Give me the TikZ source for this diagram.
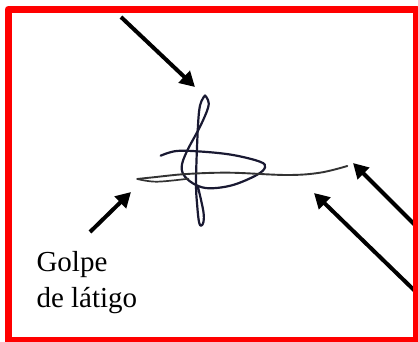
\documentclass[tikz,border=0pt]{standalone}
\usepackage{fontspec}
\setmainfont{Liberation Serif}
\usetikzlibrary{arrows.meta}
\definecolor{ink}{RGB}{25,25,50}
\tikzset{
  frame/.style={draw=red,line width=7.6pt,line join=round},
  pointer/.style={draw=black,line width=4pt,-{Triangle[length=15pt,width=16pt]}},
  pen/.style={draw=ink,line width=2.2pt,line cap=round,line join=round},
  caption/.style={font=\fontsize{29}{36}\selectfont,anchor=base west,inner sep=0pt,outer sep=0pt}
}
\begin{document}
\begin{tikzpicture}[x=1pt,y=-1pt]
\useasboundingbox (0,0) rectangle (418,342);
\fill[white] (0,0) rectangle (418,342);
% signature
\draw[pen] plot[smooth,tension=0.6] coordinates {(205,95.5) (208,100) (208,108) (200,126.7) (186.7,151.7) (181.7,166.7) (185,176.7) (196,185) (210,188.3) (233,185) (256.7,175) (265,167.3) (260,161.7) (233,155) (203,151.7) (176.7,151) (160.7,155.7)};
\draw[pen] plot[smooth,tension=0.6] coordinates {(205,95.5) (201.5,101) (199,112) (197.3,140) (196,183) (197.3,206.7) (199,222) (201,225.7) (203.5,222) (203.3,211) (198,187)};
\draw[pen,line width=1.9pt,draw=black!80] plot[smooth,tension=0.6] coordinates {(137.3,179) (153.3,177.3) (186.7,174) (230,172.7) (286.7,175) (320,172.7) (347.3,166)};
\draw[pen,line width=1.7pt,draw=black!80] plot[smooth,tension=0.6] coordinates {(137.3,179) (156.7,181.7) (188.3,178.7)};
% arrows
\coordinate (a1s) at (121,17);   \coordinate (a1e) at (195,87);
\coordinate (a2s) at (90,232);   \coordinate (a2e) at (131,192);
\coordinate (a3s) at (415,225);  \coordinate (a3e) at (353,163);
\coordinate (a4s) at (415,291);  \coordinate (a4e) at (314,193);
\draw[pointer] (a1s) -- (a1e);
\draw[pointer] (a2s) -- (a2e);
\draw[pointer] (a3s) -- (a3e);
\draw[pointer] (a4s) -- (a4e);
% frame
\draw[frame] (8.3,9.5) rectangle (416.7,341);
% label
\node[caption] (l1) at (36.5,271.7) {Golpe};
\node[caption] (l2) at (36.5,307.7) {de látigo};
\end{tikzpicture}
\end{document}
